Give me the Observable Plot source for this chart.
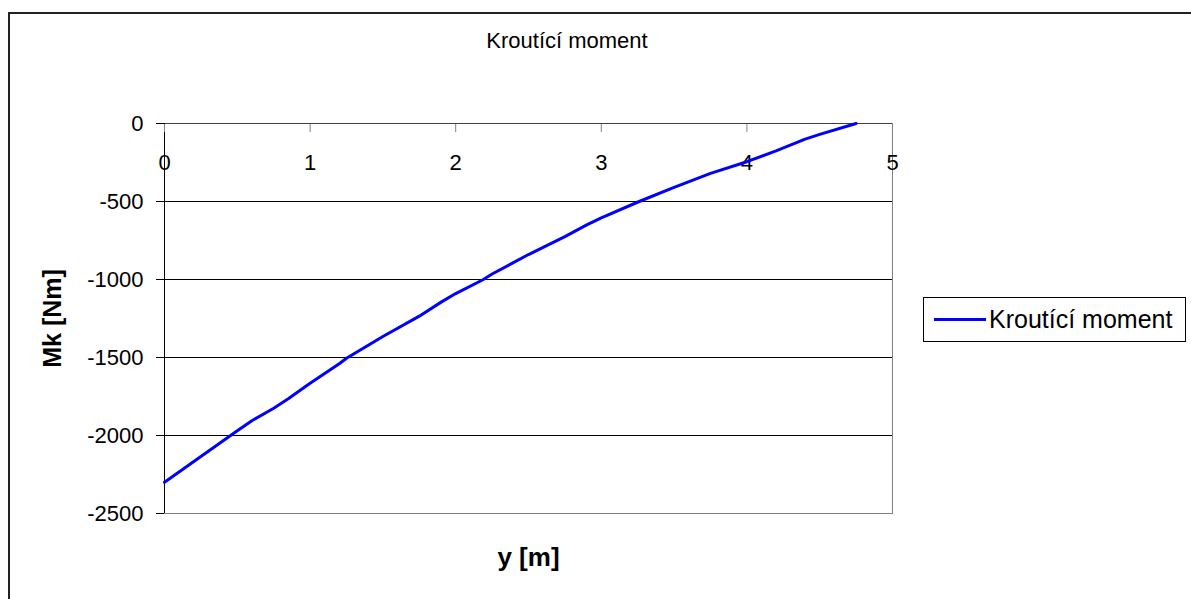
<!DOCTYPE html>
<html>
<head>
<meta charset="utf-8">
<script src="https://cdn.jsdelivr.net/npm/d3@7"></script>
<script src="https://cdn.jsdelivr.net/npm/@observablehq/plot@0.6"></script>
<style>
  body { margin: 0; background: #fff; font-family: Arial, "Liberation Sans", sans-serif; }
  #wrap { position: relative; width: 1191px; height: 599px; overflow: hidden; background: #fff; }
  #frame { position: absolute; left: 8px; top: 12px; width: 1400px; height: 800px; border: 2px solid #222; box-sizing: border-box; }
  #chart { position: absolute; left: 0; top: 0; }
  #title { position: absolute; left: 0; top: 28px; width: 1134px; text-align: center; font-size: 22px; color: #000; }
  #legend { position: absolute; left: 923px; top: 297px; width: 263px; height: 45px; border: 1px solid #000; box-sizing: border-box; background: #fff; display: flex; align-items: center; font-size: 25px; color: #000; white-space: nowrap; }
  #legend .swatch { display: inline-block; width: 52px; height: 0; border-top: 3px solid #0000ff; margin-left: 10px; margin-right: 3px; }
</style>
</head>
<body>
<div id="wrap">
  <div id="frame"></div>
  <div id="chart"></div>
  <div id="title">Kroutící moment</div>
  <div id="legend"><span class="swatch"></span><span>Kroutící moment</span></div>
</div>
<script>
// Position along beam y [m]
const posY = [0, 0.25, 0.5, 0.6, 0.75, 0.85, 1.0, 1.2, 1.25, 1.5, 1.75, 1.9, 2.0, 2.19, 2.25, 2.5, 2.75, 2.9, 3.0, 3.26, 3.5, 3.75, 4.0, 4.2, 4.4, 4.5, 4.75];
// Torque Mk [Nm]
const torque = [-2300, -2135, -1970, -1905, -1825, -1765, -1665, -1540, -1505, -1365, -1235, -1145, -1090, -1000, -965, -840, -725, -650, -605, -500, -410, -320, -245, -175, -100, -70, 0];
const xTicks = [0, 1, 2, 3, 4, 5];
const yTicks = [0, -500, -1000, -1500, -2000, -2500];
const gridTicks = [-500, -1000, -1500, -2000];

const data = posY.map((v, i) => ({pos: v, mk: torque[i]}));

const chart = Plot.plot({
  width: 1191,
  height: 599,
  marginLeft: 164,
  marginTop: 123,
  marginRight: 299,
  marginBottom: 86,
  style: { fontFamily: "Arial, 'Liberation Sans', sans-serif", fontSize: "22px", background: "transparent", color: "#000" },
  x: { domain: [0, 5] },
  y: { domain: [-2500, 0] },
  marks: [
    Plot.gridY(gridTicks, { stroke: "#000", strokeOpacity: 1 }),
    Plot.frame({ stroke: "#808080" }),
    Plot.ruleY([0], { stroke: "#404040" }),
    Plot.ruleX([0], { stroke: "#000" }),
    Plot.axisY(yTicks, { tickSize: 8, tickPadding: 13, tickFormat: d => String(d), label: null, stroke: "#000" }),
    Plot.axisX(xTicks, { anchor: "top", tickSize: 8, dy: 8, tickFormat: () => "", label: null, stroke: "#808080" }),
    Plot.axisX(xTicks, { anchor: "top", tickSize: 0, tickPadding: 3, dy: 49, tickFormat: d => String(d), label: null }),
    Plot.line(data, { x: "pos", y: "mk", stroke: "#0000ff", strokeWidth: 3 }),
    Plot.text(["Mk [Nm]"], { frameAnchor: "left", rotate: -90, dx: -121, lineAnchor: "top", textAnchor: "middle", fontWeight: "bold", fontSize: 25 }),
    Plot.text(["y [m]"], { frameAnchor: "bottom", dy: 52, lineAnchor: "bottom", textAnchor: "middle", fontWeight: "bold", fontSize: 26 })
  ]
});
document.getElementById("chart").appendChild(chart);
</script>
</body>
</html>
